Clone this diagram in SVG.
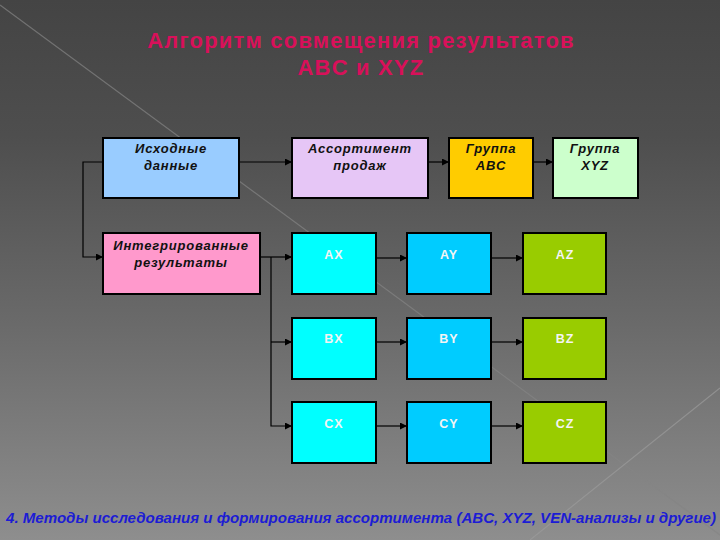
<svg xmlns="http://www.w3.org/2000/svg" width="720" height="540" viewBox="0 0 720 540">
<defs>
<linearGradient id="bg" x1="0" y1="0" x2="0" y2="1">
<stop offset="0" stop-color="#444444"/>
<stop offset="0.25" stop-color="#4e4e4e"/>
<stop offset="0.6" stop-color="#6a6a6a"/>
<stop offset="1" stop-color="#8e8e8e"/>
</linearGradient>
<marker id="arr" viewBox="0 0 10 10" refX="10" refY="5" markerWidth="7" markerHeight="7" markerUnits="userSpaceOnUse" orient="auto">
<path d="M0,0 L10,5 L0,10 z" fill="#000"/>
</marker>
<style>
.box{stroke:#000;stroke-width:2}
.lbl{font-family:"Liberation Sans",Arial,sans-serif;font-size:13px;font-weight:bold;font-style:italic;fill:#111;text-anchor:middle;letter-spacing:0.8px}
.cell{font-family:"Liberation Sans",Arial,sans-serif;font-size:12.5px;font-weight:bold;fill:#f4f4f4;text-anchor:middle;letter-spacing:1px}
.con{fill:none;stroke:#000;stroke-width:1.2}
</style>
</defs>
<rect width="720" height="540" fill="url(#bg)"/>
<line x1="0" y1="5" x2="720" y2="535" stroke="#858585" stroke-width="1.2" opacity="0.7"/>
<line x1="530" y1="540" x2="720" y2="388" stroke="#9c9c9c" stroke-width="1.2" opacity="0.7"/>

<g id="title" font-family="'Liberation Sans',Arial,sans-serif" font-weight="bold" font-size="22" fill="#d8105a" text-anchor="middle" letter-spacing="1.2">
<text x="361" y="48">Алгоритм совмещения результатов</text>
<text x="361" y="75">ABC и XYZ</text>
</g>

<g id="connectors">
<line class="con" x1="239" y1="162" x2="292" y2="162" marker-end="url(#arr)"/>
<line class="con" x1="428" y1="162" x2="449" y2="162" marker-end="url(#arr)"/>
<line class="con" x1="533" y1="162" x2="553" y2="162" marker-end="url(#arr)"/>
<polyline class="con" points="103,162 83,162 83,257 103,257" marker-end="url(#arr)"/>
<line class="con" x1="260" y1="257" x2="292" y2="257" marker-end="url(#arr)"/>
<polyline class="con" points="271,257 271,426 292,426" marker-end="url(#arr)"/>
<line class="con" x1="271" y1="342" x2="292" y2="342" marker-end="url(#arr)"/>
<line class="con" x1="376" y1="258" x2="407" y2="258" marker-end="url(#arr)"/>
<line class="con" x1="491" y1="258" x2="523" y2="258" marker-end="url(#arr)"/>
<line class="con" x1="376" y1="342" x2="407" y2="342" marker-end="url(#arr)"/>
<line class="con" x1="491" y1="342" x2="523" y2="342" marker-end="url(#arr)"/>
<line class="con" x1="376" y1="426" x2="407" y2="426" marker-end="url(#arr)"/>
<line class="con" x1="491" y1="426" x2="523" y2="426" marker-end="url(#arr)"/>
</g>

<g id="n-ishodnye"><rect class="box" x="103" y="138" width="136" height="60" fill="#99ccff"/><text class="lbl" x="171" y="153">Исходные</text><text class="lbl" x="171" y="170">данные</text></g>
<g id="n-assort"><rect class="box" x="292" y="138" width="136" height="60" fill="#e6c6f6"/><text class="lbl" x="360" y="153">Ассортимент</text><text class="lbl" x="360" y="170">продаж</text></g>
<g id="n-abc"><rect class="box" x="449" y="138" width="84" height="60" fill="#ffcc00"/><text class="lbl" x="491" y="153">Группа</text><text class="lbl" x="491" y="170">ABC</text></g>
<g id="n-xyz"><rect class="box" x="553" y="138" width="85" height="60" fill="#ccffcc"/><text class="lbl" x="595" y="153">Группа</text><text class="lbl" x="595" y="170">XYZ</text></g>
<g id="n-integr"><rect class="box" x="103" y="233" width="157" height="61" fill="#ff99cc"/><text class="lbl" x="181" y="250">Интегрированные</text><text class="lbl" x="181" y="267">результаты</text></g>

<g id="n-ax"><rect class="box" x="292" y="233" width="84" height="61" fill="#00ffff"/><text class="cell" x="334" y="259">AX</text></g>
<g id="n-ay"><rect class="box" x="407" y="233" width="84" height="61" fill="#00ccff"/><text class="cell" x="449" y="259">AY</text></g>
<g id="n-az"><rect class="box" x="523" y="233" width="83" height="61" fill="#99cc00"/><text class="cell" x="565" y="259">AZ</text></g>
<g id="n-bx"><rect class="box" x="292" y="318" width="84" height="61" fill="#00ffff"/><text class="cell" x="334" y="343">BX</text></g>
<g id="n-by"><rect class="box" x="407" y="318" width="84" height="61" fill="#00ccff"/><text class="cell" x="449" y="343">BY</text></g>
<g id="n-bz"><rect class="box" x="523" y="318" width="83" height="61" fill="#99cc00"/><text class="cell" x="565" y="343">BZ</text></g>
<g id="n-cx"><rect class="box" x="292" y="402" width="84" height="61" fill="#00ffff"/><text class="cell" x="334" y="428">CX</text></g>
<g id="n-cy"><rect class="box" x="407" y="402" width="84" height="61" fill="#00ccff"/><text class="cell" x="449" y="428">CY</text></g>
<g id="n-cz"><rect class="box" x="523" y="402" width="83" height="61" fill="#99cc00"/><text class="cell" x="565" y="428">CZ</text></g>

<text id="footer" x="6" y="523" font-family="'Liberation Sans',Arial,sans-serif" font-size="14" font-weight="bold" font-style="italic" fill="#1c1cd4" textLength="710" lengthAdjust="spacingAndGlyphs">4. Методы исследования и формирования ассортимента (ABC, XYZ, VEN-анализы и другие)</text>
</svg>
